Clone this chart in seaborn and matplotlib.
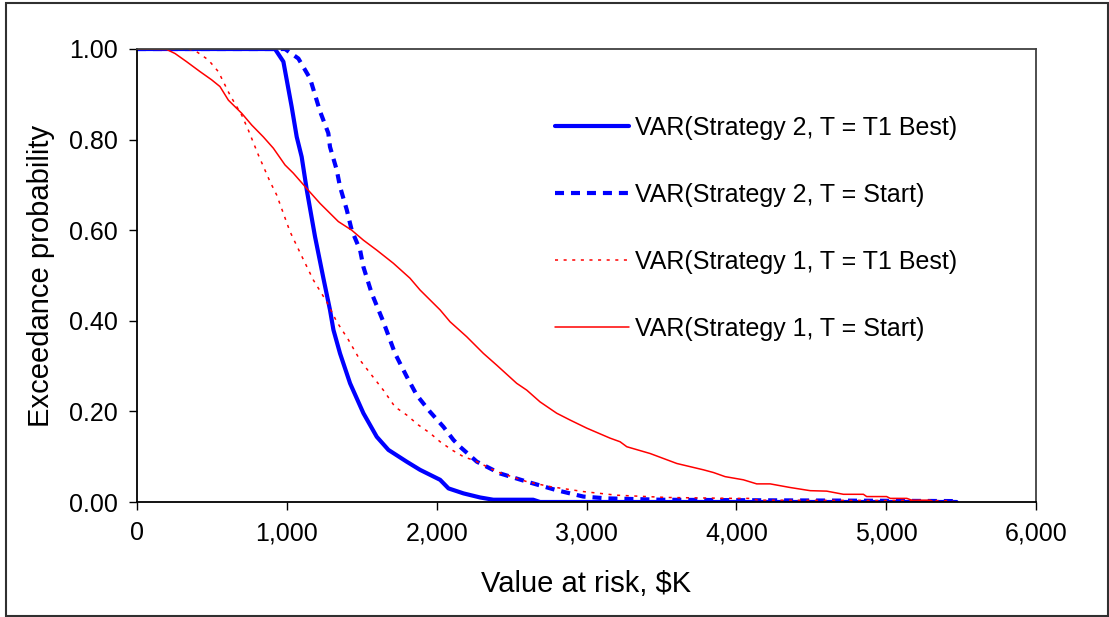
import matplotlib
matplotlib.use("Agg")
import matplotlib.pyplot as plt
import seaborn as sns
import pandas as pd
from matplotlib.patches import Rectangle

# values (x in $K, y = exceedance probability)
s2_best_x = [0, 921, 977, 1032, 1066, 1099, 1133, 1188, 1244, 1288, 1311, 1355, 1422, 1511,
             1600, 1678, 1800, 1889, 2023, 2079, 2179, 2290, 2378, 2644, 2690, 5470]
s2_best_y = [1.0, 1.0, 0.972, 0.873, 0.806, 0.762, 0.689, 0.586, 0.494, 0.424, 0.380, 0.328,
             0.262, 0.196, 0.144, 0.115, 0.089, 0.071, 0.049, 0.030, 0.019, 0.010, 0.005,
             0.005, 0.0, 0.0]

s2_start_x = [0, 988, 1077, 1155, 1199, 1222, 1277, 1288, 1333, 1355, 1400, 1433, 1489, 1511,
              1566, 1644, 1722, 1800, 1867, 1956, 2045, 2112, 2156, 2268, 2423, 2601, 2801,
              2979, 3135, 3500, 4000, 5470]
s2_start_y = [1.0, 1.0, 0.979, 0.935, 0.887, 0.862, 0.814, 0.784, 0.733, 0.696, 0.645, 0.600,
              0.556, 0.519, 0.461, 0.398, 0.328, 0.277, 0.236, 0.199, 0.166, 0.137, 0.122,
              0.089, 0.063, 0.045, 0.026, 0.012, 0.008, 0.005, 0.004, 0.002]

s1_best_x = [0, 343, 398, 476, 543, 621, 699, 743, 810, 888, 932, 1021, 1099, 1177, 1266, 1333,
             1411, 1489, 1566, 1644, 1722, 1800, 1878, 1956, 2023, 2101, 2179, 2256, 2401, 2601,
             2757, 2979, 3202, 3536, 3981, 4080, 4150, 5447]
s1_best_y = [1.0, 1.0, 0.994, 0.976, 0.950, 0.898, 0.854, 0.821, 0.766, 0.707, 0.678, 0.597,
             0.543, 0.490, 0.442, 0.398, 0.358, 0.313, 0.280, 0.247, 0.210, 0.192, 0.170,
             0.152, 0.133, 0.115, 0.100, 0.091, 0.067, 0.045, 0.034, 0.023, 0.015, 0.010,
             0.008, 0.008, 0.004, 0.003]

s1_start_x = [0, 198, 254, 331, 421, 498, 554, 610, 699, 766, 843, 910, 988, 1043, 1133, 1222,
              1344, 1433, 1511, 1600, 1711, 1822, 1889, 2023, 2089, 2200, 2312, 2401, 2534,
              2601, 2690, 2801, 2890, 3002, 3157, 3224, 3269, 3425, 3603, 3692, 3781, 3848,
              3925, 4047, 4136, 4226, 4359, 4493, 4603, 4715, 4848, 4870, 5003, 5027, 5138,
              5171, 5294, 5316, 5471]
s1_start_y = [1.0, 0.999, 0.990, 0.972, 0.950, 0.932, 0.917, 0.887, 0.858, 0.832, 0.806, 0.781,
              0.744, 0.726, 0.692, 0.659, 0.619, 0.600, 0.578, 0.556, 0.527, 0.494, 0.468,
              0.424, 0.398, 0.365, 0.328, 0.302, 0.262, 0.247, 0.221, 0.196, 0.181, 0.163,
              0.141, 0.133, 0.122, 0.107, 0.085, 0.078, 0.071, 0.065, 0.056, 0.049, 0.040,
              0.040, 0.032, 0.025, 0.024, 0.017, 0.017, 0.012, 0.012, 0.008, 0.008, 0.004,
              0.004, 0.0, 0.0]

labels = ["VAR(Strategy 2, T = T1 Best)", "VAR(Strategy 2, T = Start)",
          "VAR(Strategy 1, T = T1 Best)", "VAR(Strategy 1, T = Start)"]
x_ticks = [0, 1000, 2000, 3000, 4000, 5000, 6000]
y_ticks = [0.0, 0.2, 0.4, 0.6, 0.8, 1.0]

sns.set_theme(style="white")
plt.rcParams["font.family"] = ["Liberation Sans", "DejaVu Sans"]
plt.rcParams["lines.scale_dashes"] = False
plt.rcParams["text.color"] = "black"
plt.rcParams["axes.labelcolor"] = "black"

fig = plt.figure(figsize=(11.09, 6.17), dpi=100)
ax = fig.add_axes([137 / 1109, 1 - 502 / 617, (1036 - 137) / 1109, (502 - 49) / 617])

series = [
    (s2_best_x, s2_best_y, "#0000ff", 3.0, "-"),
    (s2_start_x, s2_start_y, "#0000ff", 3.0, (0, (6.5, 5.0))),
    (s1_best_x, s1_best_y, "#ff0000", 1.1, (0, (2.2, 4.0))),
    (s1_start_x, s1_start_y, "#ff0000", 1.1, "-"),
]
for (xs, ys, col, lw, ls), lab in zip(series, labels):
    df = pd.DataFrame({"x": xs, "y": ys})
    sns.lineplot(data=df, x="x", y="y", ax=ax, color=col, linewidth=lw,
                 linestyle=ls, label=lab, estimator=None, sort=False)

ax.set_xlim(0, 6000)
ax.set_ylim(0, 1.0)
ax.set_xticks(x_ticks)
ax.set_xticklabels([f"{v:,}" for v in x_ticks])
ax.set_yticks(y_ticks)
ax.set_yticklabels([f"{v:.2f}" for v in y_ticks])
ax.tick_params(axis="both", direction="out", length=6, width=1, colors="black",
               labelsize=18, pad=8, bottom=True, left=True)

for side in ["left", "bottom"]:
    ax.spines[side].set_color("black")
    ax.spines[side].set_linewidth(1.3)
for side in ["top", "right"]:
    ax.spines[side].set_color("#404040")
    ax.spines[side].set_linewidth(1.3)

ax.set_xlabel("Value at risk, $K", fontsize=21, labelpad=18, color="black")
ax.set_ylabel("Exceedance probability", fontsize=21, labelpad=10, color="black")

leg = ax.legend(loc="upper left", bbox_to_anchor=(555 / 1109, 1 - 116 / 617),
                bbox_transform=fig.transFigure, frameon=False, fontsize=18,
                handlelength=2.95, handletextpad=0.25, labelspacing=1.72,
                borderpad=0, borderaxespad=0)
for t in leg.get_texts():
    t.set_color("black")

# outer chart border
fig.patches.append(Rectangle((6 / 1109, 1 / 617), 1102 / 1109, 613 / 617,
                             transform=fig.transFigure, fill=False,
                             edgecolor="#303030", linewidth=1.5))

fig.savefig("out.png", dpi=100)
